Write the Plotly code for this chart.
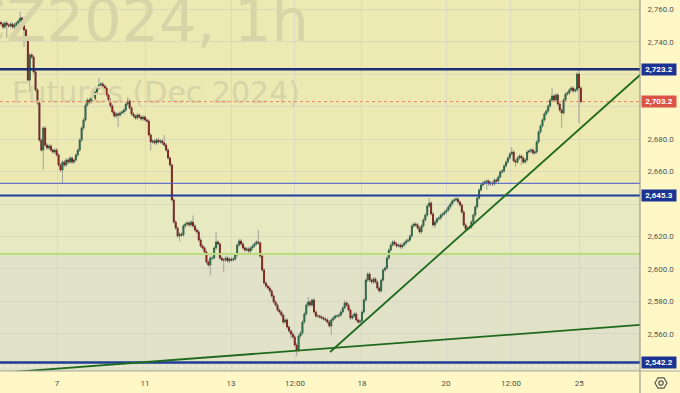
import plotly.graph_objects as go

# ---------------- data ----------------
closes = [
    2751.1, 2749.2, 2751.7, 2750.5, 2749.9, 2751.1, 2749.2, 2750.5, 2751.7, 2752.9,
    2754.8, 2750.5, 2747.4, 2742.5, 2716.5, 2732.0, 2730.7, 2721.5, 2710.4, 2702.3,
    2679.5, 2673.3, 2686.9, 2676.4, 2674.6, 2675.8, 2673.3, 2672.1, 2673.3, 2670.3,
    2664.1, 2661.0, 2665.9, 2664.1, 2667.2, 2665.9, 2668.4, 2665.9, 2667.2, 2670.3,
    2673.3, 2679.5, 2686.9, 2691.9, 2701.1, 2704.2, 2703.0, 2705.4, 2704.2, 2709.1,
    2711.6, 2713.5, 2714.1, 2712.8, 2711.6, 2707.3, 2704.2, 2700.5, 2696.8, 2694.3,
    2695.6, 2694.9, 2696.2, 2696.8, 2698.0, 2701.7, 2703.6, 2699.3, 2695.6, 2694.3,
    2693.1, 2694.9, 2693.7, 2692.5, 2693.7, 2691.9, 2691.2, 2682.6, 2678.3, 2678.9,
    2677.7, 2679.5, 2678.3, 2678.9, 2677.7, 2676.4, 2673.3, 2668.4, 2664.1, 2642.5,
    2628.9, 2625.2, 2620.3, 2621.5, 2620.9, 2626.5, 2627.7, 2628.3, 2627.1, 2628.9,
    2626.5, 2624.0, 2622.8, 2617.8, 2614.1, 2612.9, 2610.4, 2604.2, 2602.4, 2606.7,
    2606.7, 2612.9, 2616.6, 2615.4, 2606.7, 2605.5, 2605.5, 2606.7, 2604.9, 2606.1,
    2605.5, 2606.1, 2608.6, 2614.7, 2617.2, 2615.4, 2612.9, 2611.6, 2612.3, 2611.0,
    2612.9, 2614.1, 2615.4, 2616.6, 2616.0, 2607.9, 2599.3, 2591.3, 2589.4, 2588.2,
    2586.4, 2583.3, 2579.6, 2577.7, 2574.6, 2573.4, 2571.5, 2567.2, 2568.5, 2564.1,
    2561.7, 2559.8, 2558.0, 2553.0, 2549.9, 2558.6, 2560.4, 2567.2, 2572.2, 2577.7,
    2579.6, 2577.7, 2580.8, 2573.4, 2570.9, 2570.9, 2570.3, 2569.7, 2569.1, 2568.5,
    2567.2, 2564.8, 2568.5, 2569.7, 2570.9, 2570.9, 2571.5, 2573.4, 2575.9, 2579.0,
    2577.7, 2574.6, 2569.7, 2570.9, 2572.2, 2568.5, 2567.2, 2567.8, 2573.4, 2580.8,
    2593.1, 2596.8, 2593.1, 2591.9, 2593.8, 2591.9, 2588.2, 2586.4, 2593.1, 2599.3,
    2600.5, 2606.7, 2611.6, 2614.7, 2616.6, 2615.4, 2614.1, 2614.7, 2613.5, 2614.7,
    2616.0, 2617.2, 2617.8, 2620.3, 2626.5, 2627.7, 2627.1, 2625.2, 2622.8, 2626.5,
    2630.2, 2633.2, 2638.8, 2640.6, 2633.9, 2627.1, 2628.9, 2630.8, 2631.4, 2633.2,
    2633.9, 2635.1, 2636.3, 2638.2, 2640.0, 2641.9, 2642.5, 2643.1, 2641.3, 2639.4,
    2635.1, 2627.1, 2624.6, 2625.2, 2625.8, 2628.9, 2633.2, 2638.2, 2643.7, 2648.7,
    2651.8, 2653.0, 2653.6, 2654.2, 2652.4, 2653.0, 2652.4, 2654.8, 2654.2, 2656.7,
    2659.8, 2660.4, 2663.5, 2665.9, 2668.4, 2670.9, 2672.1, 2666.6, 2665.9, 2668.4,
    2669.6, 2668.4, 2665.9, 2667.2, 2672.1, 2672.7, 2673.3, 2671.5, 2672.1, 2678.3,
    2684.5, 2688.2, 2691.9, 2695.6, 2697.4, 2700.5, 2704.2, 2706.7, 2704.2, 2707.3,
    2701.7, 2698.0, 2696.2, 2704.2, 2707.9, 2708.5, 2710.4, 2711.6, 2709.8, 2710.4,
    2720.2, 2711.6, 2703.2,
]
first_open = 2752.0
wick = 1.2  # typical small wick length

spike_hi_bars = [10, 51, 66, 85, 100, 112, 134, 160, 179, 223, 237, 266, 287, 301]
spike_hi_vals = [2758.8, 2717.8, 2706.0, 2682.6, 2633.0, 2622.8, 2624.0, 2582.6,
                 2580.8, 2643.7, 2644.4, 2675.2, 2711.6, 2723.2]
spike_lo_bars = [3, 12, 15, 22, 32, 61, 78, 93, 109, 116, 151, 154, 172, 226, 242,
                 253, 268, 271, 292, 301]
spike_lo_vals = [2742.5, 2737.0, 2709.0, 2661.0, 2653.0, 2687.5, 2673.0, 2617.0,
                 2596.0, 2598.0, 2557.0, 2546.0, 2559.2, 2625.2, 2622.8, 2648.7,
                 2662.9, 2664.0, 2686.9, 2690.0]

tick_bars = [29.2, 75.0, 119.8, 153.1, 188.0, 231.8, 265.6, 301.1]
tick_labels = ["7", "11", "13", "12:00", "18", "20", "12:00", "25"]

price_ticks = [2560, 2580, 2600, 2620, 2640, 2660, 2680, 2700, 2720, 2740, 2760]
hidden_price_ticks = [2640, 2700, 2720]  # covered by the price tags

level_major = [2723.2, 2645.3, 2542.2]
level_thin = 2652.8
level_green = 2609.2
last_price = 2703.2
tag_prices = [2723.2, 2703.2, 2645.3, 2542.2]
tag_colors = ["#1b3494", "#dc5347", "#1b3494", "#1b3494"]

trend_a = [(-0.52, 2535.8), (332.8, 2565.4)]
trend_b = [(171.4, 2548.7), (332.8, 2719.6)]

x_range = [-0.52, 332.8]
y_range = [2537.0, 2765.9]

# ---------------- derived ----------------
n = len(closes)
bars = list(range(n))
opens = [first_open] + closes[:-1]
highs = [max(o, c) + wick for o, c in zip(opens, closes)]
lows = [min(o, c) - wick for o, c in zip(opens, closes)]
for b, v in zip(spike_hi_bars, spike_hi_vals):
    highs[b] = max(highs[b], v)
for b, v in zip(spike_lo_bars, spike_lo_vals):
    lows[b] = min(lows[b], v)
body_hi = [max(o, c) for o, c in zip(opens, closes)]
body_lo = [min(o, c) for o, c in zip(opens, closes)]

price_tick_text = ["" if t in hidden_price_ticks else f"{t:,.1f}" for t in price_ticks]

PANEL = "#fff8c6"
TOP_BG = "#ece9b3"
GRID = "rgba(205,205,200,0.55)"
WM = "#d7d4a7"

fig = go.Figure()

# watermark (drawn first, below candles)
fig.add_trace(go.Scatter(
    x=[160.4, 155.7], y=[2749.6, 2706.7], mode="text",
    text=["GCZ2024, 1h", "Futures (Dec 2024)"],
    textposition="middle left",
    textfont=dict(family="DejaVu Sans", size=[59, 30], color=WM),
    hoverinfo="skip", showlegend=False, cliponaxis=True,
))

# wicks (gray)
fig.add_trace(go.Candlestick(
    x=bars, open=opens, high=highs, low=lows, close=closes,
    increasing=dict(line=dict(color="#a3a39a", width=1), fillcolor="#a3a39a"),
    decreasing=dict(line=dict(color="#a3a39a", width=1), fillcolor="#a3a39a"),
    whiskerwidth=0, showlegend=False, hoverinfo="skip",
))
# bodies
fig.add_trace(go.Candlestick(
    x=bars, open=opens, high=body_hi, low=body_lo, close=closes,
    increasing=dict(line=dict(color="#1f5c3a", width=0.8), fillcolor="#4c9a6c"),
    decreasing=dict(line=dict(color="#6e1a14", width=0.8), fillcolor="#c23b2e"),
    whiskerwidth=0, showlegend=False, hoverinfo="skip",
))

shapes = []
# background bands
shapes.append(dict(type="rect", xref="paper", yref="y", x0=0, x1=1, y0=level_thin, y1=y_range[1],
                   fillcolor=TOP_BG, line_width=0, layer="below"))
shapes.append(dict(type="rect", xref="paper", yref="y", x0=0, x1=1, y0=level_major[1], y1=level_thin,
                   fillcolor="#ececc2", line_width=0, layer="below"))
shapes.append(dict(type="rect", xref="paper", yref="y", x0=0, x1=1, y0=level_green, y1=level_major[1],
                   fillcolor="#e7e9c1", line_width=0, layer="below"))
shapes.append(dict(type="rect", xref="paper", yref="y", x0=0, x1=1, y0=y_range[0], y1=level_green,
                   fillcolor="#e2e2c8", line_width=0, layer="below"))

# horizontal levels
def hline(y, color, width, dash="solid"):
    shapes.append(dict(type="line", xref="paper", yref="y", x0=0, x1=1, y0=y, y1=y,
                       line=dict(color=color, width=width, dash=dash), layer="above"))

hline(level_green, "#b9dc7c", 2)
hline(level_thin, "#4657cf", 1)
hline(level_major[1], "#1d3c9c", 2)
hline(level_major[0], "#1a2d78", 2.5)
hline(level_major[2], "#1d3c96", 2.5)
hline(2539.9, "#f4f4ee", 1, "dot")
hline(last_price, "#e88a6c", 1, "dot")

# trend lines
for (xa, ya), (xb, yb) in (trend_a, trend_b):
    shapes.append(dict(type="line", xref="x", yref="y", x0=xa, y0=ya, x1=xb, y1=yb,
                       line=dict(color="#1f6a1f", width=1.8), layer="above"))

# frame lines
shapes.append(dict(type="line", xref="paper", yref="paper", x0=1, x1=1, y0=-0.06, y1=1,
                   line=dict(color="#8c8c86", width=1)))
shapes.append(dict(type="line", xref="paper", yref="paper", x0=0, x1=1.0625, y0=0, y1=0,
                   line=dict(color="#a4a49c", width=1)))

# settings icon (hexagon + circle)
shapes.append(dict(type="path", xref="paper", yref="paper", xsizemode="pixel", ysizemode="pixel",
                   xanchor=661 / 640, yanchor=-12 / 371,
                   path="M -6 0 L -3 5.2 L 3 5.2 L 6 0 L 3 -5.2 L -3 -5.2 Z",
                   line=dict(color="#555555", width=1.2)))
shapes.append(dict(type="circle", xref="paper", yref="paper", xsizemode="pixel", ysizemode="pixel",
                   xanchor=661 / 640, yanchor=-12 / 371, x0=-2.2, x1=2.2, y0=-2.2, y1=2.2,
                   line=dict(color="#555555", width=1.2)))

annotations = []
for p, c in zip(tag_prices, tag_colors):
    annotations.append(dict(
        xref="paper", yref="y", x=641 / 640, y=p, xanchor="left", yanchor="middle",
        text=f"{p:,.1f}", showarrow=False, bgcolor=c, width=32, height=9, borderpad=1,
        font=dict(family="Roboto", size=8, color="white", weight="bold"), align="center",
    ))

fig.update_layout(
    width=680, height=393,
    margin=dict(l=0, r=40, t=0, b=22),
    paper_bgcolor=PANEL, plot_bgcolor=TOP_BG,
    showlegend=False,
    shapes=shapes, annotations=annotations,
    xaxis=dict(range=x_range, rangeslider=dict(visible=False), showgrid=True, gridcolor=GRID,
               gridwidth=1, tickmode="array", tickvals=tick_bars, ticktext=tick_labels,
               ticks="outside", ticklen=4, tickcolor="rgba(0,0,0,0)",
               tickfont=dict(family="Roboto", size=8, color="#4d4d4d"),
               zeroline=False, showline=False, fixedrange=True),
    yaxis=dict(range=y_range, side="right", showgrid=True, gridcolor=GRID, gridwidth=1,
               tickmode="array", tickvals=price_ticks, ticktext=price_tick_text,
               ticks="outside", ticklen=5, tickcolor="rgba(0,0,0,0)",
               tickfont=dict(family="Roboto", size=8, color="#555555"),
               zeroline=False, showline=False, fixedrange=True),
)

fig.write_html("out.html")
